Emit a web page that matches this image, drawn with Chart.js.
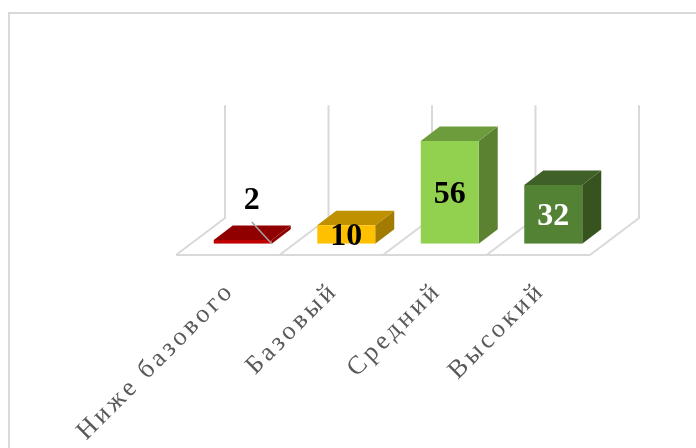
<!DOCTYPE html>
<html lang="ru">
<head>
<meta charset="UTF-8">
<title>Уровни</title>
<script src="https://cdn.jsdelivr.net/npm/chart.js"></script>
<style>
    html, body { margin: 0; background: #fff; overflow: hidden; }
    #frame { position: absolute; left: 8px; top: 12px; width: 900px; height: 700px; border: 2px solid #d9d9d9; }
    #levelsChart { position: absolute; left: 0; top: 0; }
</style>
</head>
<body>
<div id="frame"></div>
<canvas id="levelsChart" width="696" height="448"></canvas>
<script>
    const categories = ['Ниже базового', 'Базовый', 'Средний', 'Высокий'];
    const values = [2, 10, 56, 32];
    const axisMax = 61.5;

    const frontColors = ['#c00000', '#ffc000', '#92d050', '#548235'];
    const topColors = ['#900000', '#bf9000', '#6d9c3c', '#3f6128'];
    const sideColors = ['#900000', '#a37b00', '#5b8230', '#37541f'];
    const labelColors = ['#000', '#000', '#000', '#fff'];

    // fake 3D depth of the bars and of the floor, relative to the bar base line
    const barDepth = { x: 19, y: 14.5 };
    const floorFront = { x: -15, y: 11.3 };
    const floorBack = { x: 34, y: -25.7 };

    const box3d = {
      id: 'box3d',
      beforeDatasetsDraw(chart) {
        const { ctx, scales: { x, y } } = chart;
        const step = x.getPixelForValue(1) - x.getPixelForValue(0);
        const base = y.getPixelForValue(0);
        const top = y.getPixelForValue(axisMax);

        ctx.save();
        ctx.strokeStyle = '#d9d9d9';
        ctx.lineWidth = 2;
        ctx.beginPath();
        const left = x.getPixelForValue(0) - step / 2;
        ctx.moveTo(left + floorFront.x, base + floorFront.y);
        ctx.lineTo(left + step * categories.length + floorFront.x, base + floorFront.y);
        for (let i = 0; i <= categories.length; i++) {
          const edge = left + step * i;
          ctx.moveTo(edge + floorFront.x, base + floorFront.y);
          ctx.lineTo(edge + floorBack.x, base + floorBack.y);
          ctx.lineTo(edge + floorBack.x, top + floorBack.y);
        }
        ctx.stroke();

        // side and top faces, the front face is the real bar
        chart.getDatasetMeta(0).data.forEach((bar, i) => {
          const l = bar.x - bar.width / 2;
          const r = bar.x + bar.width / 2;
          ctx.fillStyle = sideColors[i];
          ctx.beginPath();
          ctx.moveTo(r, base);
          ctx.lineTo(r + barDepth.x, base - barDepth.y);
          ctx.lineTo(r + barDepth.x, bar.y - barDepth.y);
          ctx.lineTo(r, bar.y);
          ctx.closePath();
          ctx.fill();
          ctx.fillStyle = topColors[i];
          ctx.beginPath();
          ctx.moveTo(l, bar.y);
          ctx.lineTo(l + barDepth.x, bar.y - barDepth.y);
          ctx.lineTo(r + barDepth.x, bar.y - barDepth.y);
          ctx.lineTo(r, bar.y);
          ctx.closePath();
          ctx.fill();
        });
        ctx.restore();
      },
      afterDatasetsDraw(chart) {
        const { ctx, scales: { y } } = chart;
        const base = y.getPixelForValue(0);
        ctx.save();
        ctx.letterSpacing = '0px';
        ctx.font = 'bold 32px "Liberation Serif"';
        ctx.textAlign = 'center';
        ctx.textBaseline = 'middle';
        chart.getDatasetMeta(0).data.forEach((bar, i) => {
          let tx = bar.x;
          let ty = (bar.y + base) / 2 + 2;
          // the smallest bar has its label pulled out with a leader line
          if (i === 0) {
            tx = bar.x + 9;
            ty = bar.y - 39;
            ctx.strokeStyle = '#a6a6a6';
            ctx.lineWidth = 1.5;
            ctx.beginPath();
            ctx.moveTo(tx, ty + 21);
            ctx.lineTo(bar.x + bar.width / 2, base);
            ctx.stroke();
          }
          ctx.fillStyle = labelColors[i];
          ctx.fillText(values[i], tx, ty);
        });
        ctx.restore();
      }
    };

    const spacedTicks = {
      id: 'spacedTicks',
      beforeDraw(chart) { chart.ctx.letterSpacing = '3.6px'; }
    };

    new Chart(document.getElementById('levelsChart'), {
      type: 'bar',
      plugins: [spacedTicks, box3d],
      data: {
        labels: categories,
        datasets: [{
          data: values,
          backgroundColor: frontColors,
          borderWidth: 0,
          barPercentage: 0.56,
          categoryPercentage: 1
        }]
      },
      options: {
        responsive: false,
        animation: false,
        layout: { padding: { left: 191, right: 91, top: 130.9, bottom: 0 } },
        plugins: { legend: { display: false }, tooltip: { enabled: false } },
        scales: {
          x: {
            grid: { display: false },
            border: { display: false },
            afterFit(scale) {
              scale.height = 204.3;
              scale.paddingLeft = 0;
              scale.paddingRight = 0;
            },
            ticks: {
              autoSkip: false,
              minRotation: 45,
              maxRotation: 45,
              padding: 24,
              labelOffset: -12,
              color: '#595959',
              font: { family: '"Liberation Serif"', size: 26 }
            }
          },
          y: { display: false, min: 0, max: axisMax }
        }
      }
    });
</script>
</body>
</html>
